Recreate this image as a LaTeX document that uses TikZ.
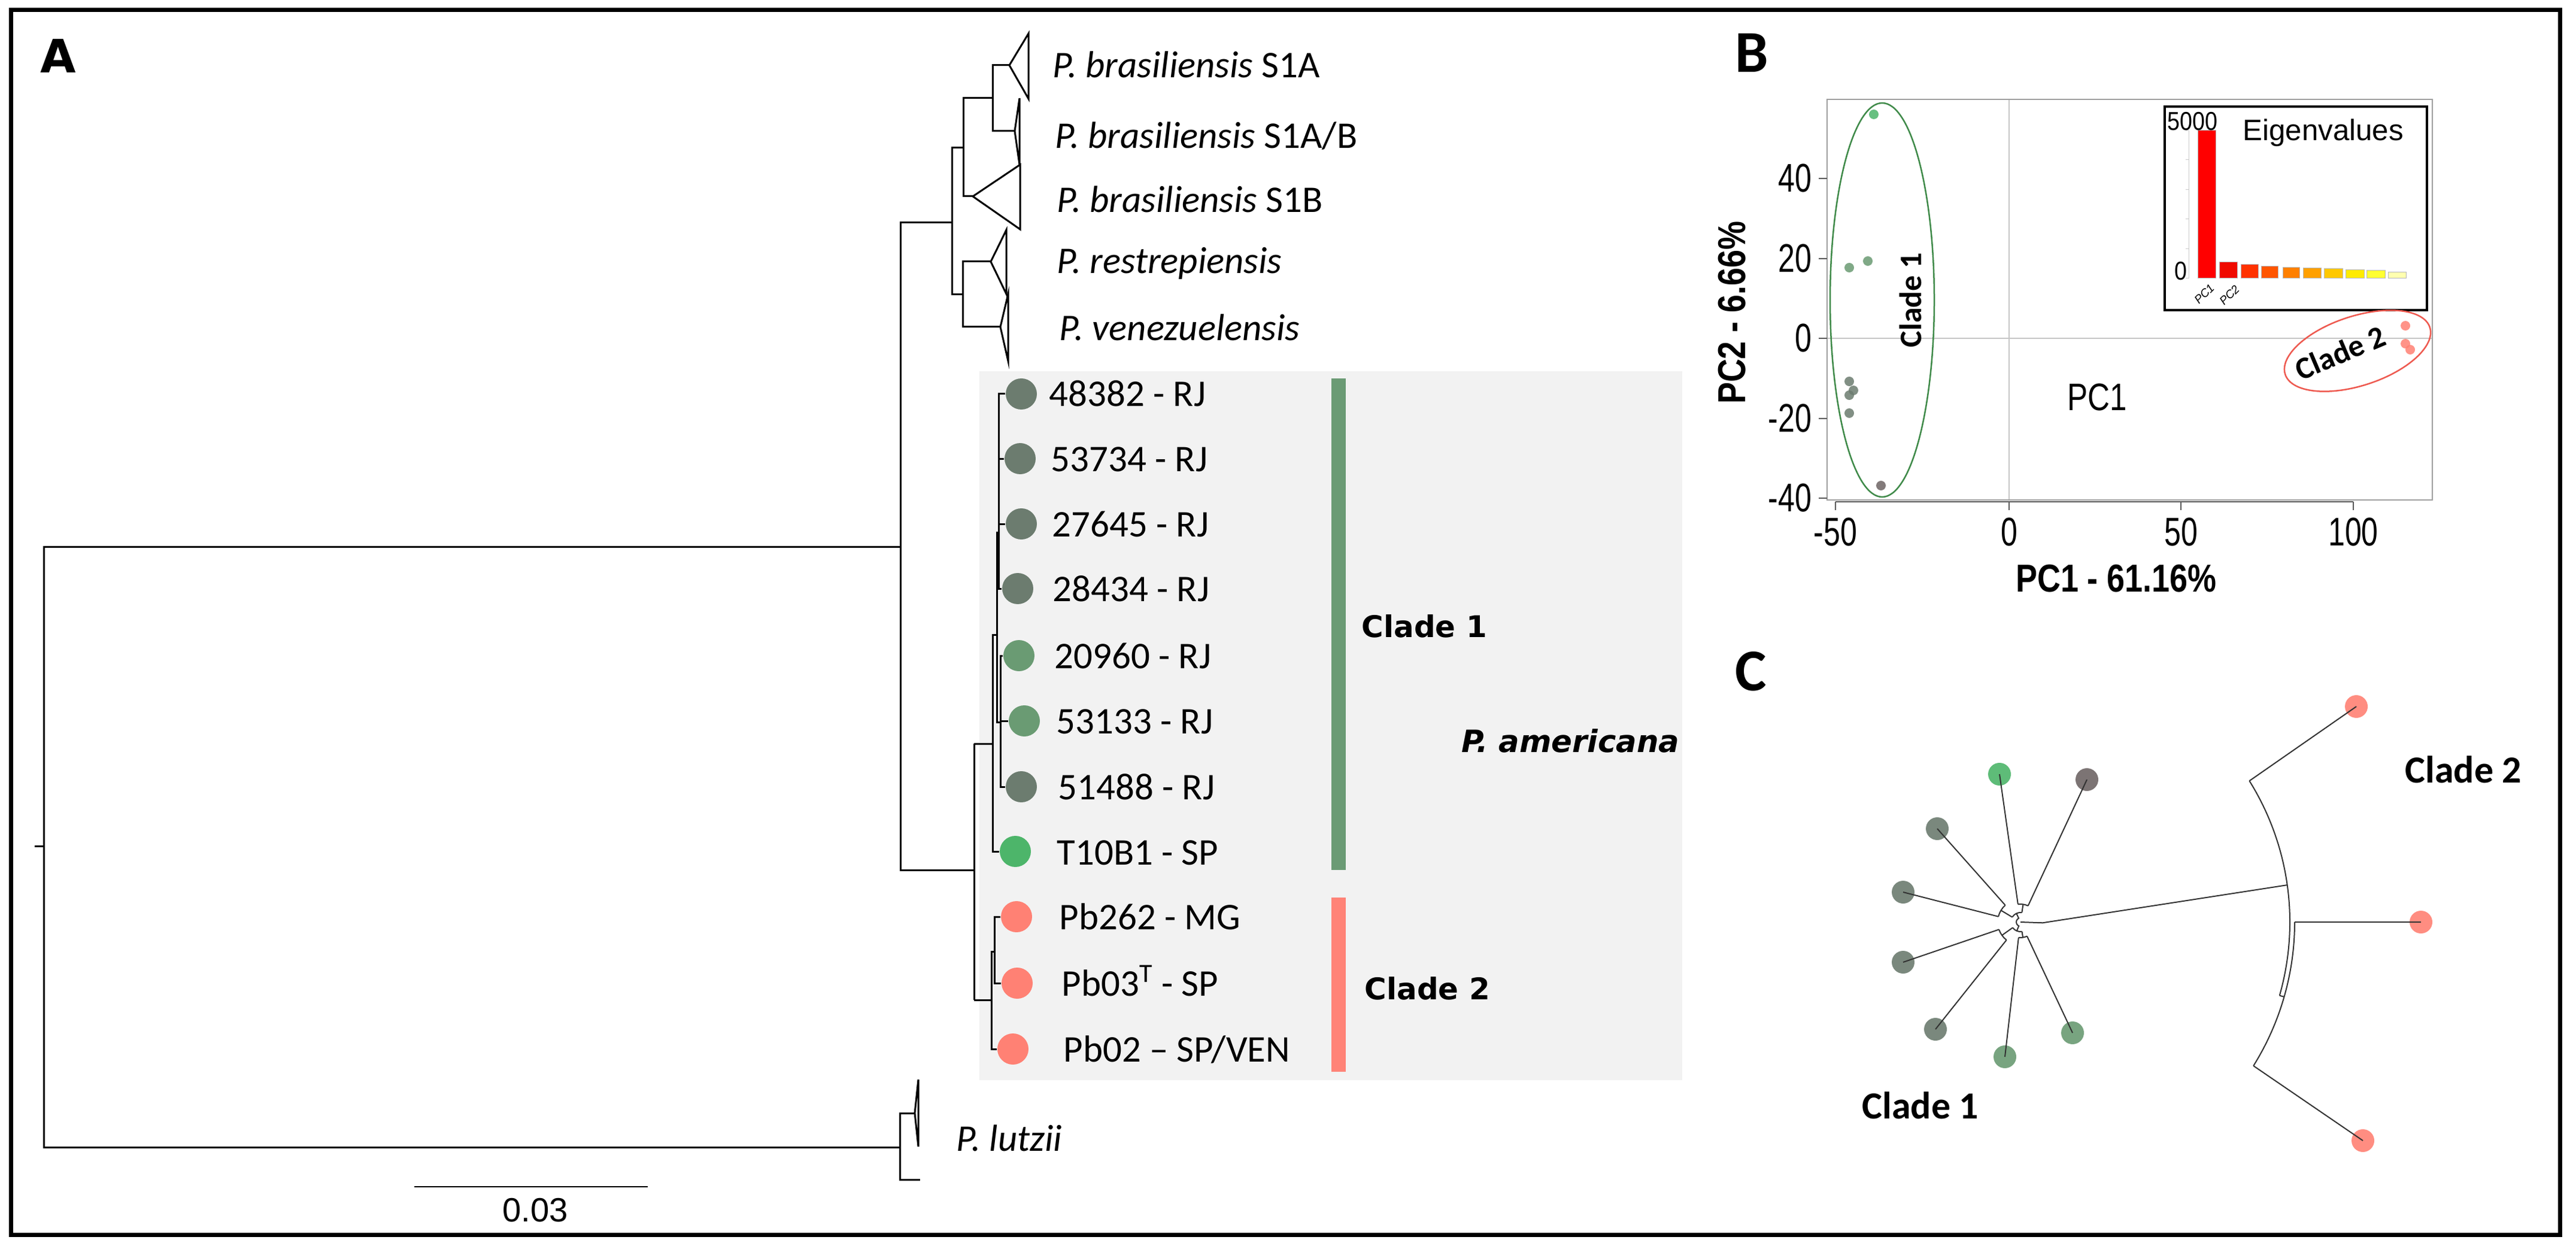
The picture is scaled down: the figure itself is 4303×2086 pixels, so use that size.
\documentclass[tikz,border=0pt]{standalone}
\usepackage{fontspec}
\setmainfont{Carlito}
\newfontfamily\dvs{DejaVu Sans}
\newfontfamily\lsans{Liberation Sans}
\newfontfamily\rtick{Liberation Sans}[FakeStretch=0.75]
\newfontfamily\raxis{Liberation Sans}[FakeStretch=0.83]
\newfontfamily\rpc{Liberation Sans}[FakeStretch=0.8]
\newfontfamily\rsmall{Liberation Sans}[FakeStretch=0.87]
\usetikzlibrary{calc}
\definecolor{boxgray}{HTML}{F2F2F2}
\definecolor{dkg}{HTML}{6C7C6F}
\definecolor{mdg}{HTML}{6A9B73}
\definecolor{brg}{HTML}{4DB56A}
\definecolor{salm}{HTML}{FF8174}
\definecolor{barg}{HTML}{6B9B75}
\definecolor{barr}{HTML}{FF8377}
\definecolor{ellg}{HTML}{3F8A49}
\definecolor{ellr}{HTML}{EE5A50}
\definecolor{cbrown}{HTML}{6E6565}
\tikzset{
  tree/.style={line width=0.3mm, black, line join=miter},
  leafdot/.style={circle, inner sep=0pt, minimum size=5.2mm, draw=none},
  leaftxt/.style={anchor=base west, inner sep=0pt, font=\fontsize{17.9}{20}\selectfont},
  species/.style={anchor=base west, inner sep=0pt, font=\fontsize{17.9}{20}\selectfont\itshape},
  cladeA/.style={anchor=base west, inner sep=0pt, font=\dvs\bfseries\fontsize{14.2}{16}\selectfont},
  panelB/.style={anchor=base west, inner sep=0pt, font=\bfseries\fontsize{28.2}{30}\selectfont},
  ytick/.style={anchor=east, inner sep=0pt, font=\rtick\fontsize{19}{20}\selectfont},
  xtick/.style={anchor=north, inner sep=0pt, font=\rtick\fontsize{19}{20}\selectfont},
  axtitle/.style={inner sep=0pt, font=\raxis\bfseries\fontsize{18.5}{20}\selectfont},
  pdot/.style={circle, inner sep=0pt, minimum size=1.6mm, fill opacity=0.85},
  cdot/.style={circle, inner sep=0pt, minimum size=3.8mm, fill opacity=0.9},
  ctree/.style={line width=0.2mm, black!80},
  bar/.style={draw=gray!55, line width=0.1mm},
  cladeC/.style={anchor=base west, inner sep=0pt, font=\bfseries\fontsize{18.2}{20}\selectfont},
  cladeB/.style={inner sep=0pt, font=\bfseries\fontsize{14.8}{16}\selectfont}
}
\begin{document}
\begin{tikzpicture}[x=0.1mm,y=-0.1mm]
\useasboundingbox (0,0) rectangle (4303,2086);
\fill[white] (0,0) rectangle (4303,2086);
% ================= Panel A =================
\fill[boxgray] (1636,620) rectangle (2810,1804);
\node[anchor=base west, inner sep=0pt, font=\dvs\bfseries\fontsize{21.9}{24}\selectfont] (labA) at (67,122) {A};
% root
\draw[tree] (58,1413) -- (73,1413);
\draw[tree] (1504,913) -- (73,913) -- (73,1916) -- (1504,1916);
\draw[tree] (1590,372) -- (1504,372) -- (1504,1453) -- (1627,1453);
% brasiliensis etc.
\draw[tree] (1609,247) -- (1590,247) -- (1590,492) -- (1608,492);
\draw[tree] (1658,164) -- (1609,164) -- (1609,328) -- (1625,328);
\draw[tree] (1686,109) -- (1658,109) -- (1658,219) -- (1695,219);
\draw[tree] (1686,109) -- (1718,56) -- (1718,165) -- cycle;
\draw[tree] (1695,219) -- (1703,164) -- (1703,275) -- cycle;
\draw[tree] (1625,328) -- (1704,275) -- (1704,383) -- cycle;
\draw[tree] (1655,437) -- (1608,437) -- (1608,546) -- (1671,546);
\draw[tree] (1655,437) -- (1681,384) -- (1681,491) -- cycle;
\draw[tree] (1671,546) -- (1684,491) -- (1684,603) -- cycle;
% lutzii
\draw[tree] (1528,1859) -- (1503,1859) -- (1503,1970) -- (1537,1970);
\draw[tree] (1528,1859) -- (1534,1803) -- (1534,1915) -- cycle;
% americana leaves
\node[leafdot, fill=dkg] (l1) at (1706,658) {};
\node[leafdot, fill=dkg] (l2) at (1704,766) {};
\node[leafdot, fill=dkg] (l3) at (1706,875) {};
\node[leafdot, fill=dkg] (l4) at (1700,983) {};
\node[leafdot, fill=mdg] (l5) at (1702,1095) {};
\node[leafdot, fill=mdg] (l6) at (1711,1204) {};
\node[leafdot, fill=dkg] (l7) at (1706,1314) {};
\node[leafdot, fill=brg] (l8) at (1696,1422) {};
\node[leafdot, fill=salm] (l9) at (1698,1531) {};
\node[leafdot, fill=salm] (l10) at (1699,1642) {};
\node[leafdot, fill=salm] (l11) at (1692,1752) {};
\node[leaftxt] (t1) at (1752,679) {48382 - RJ};
\node[leaftxt] (t2) at (1755,787) {53734 - RJ};
\node[leaftxt] (t3) at (1757,896) {27645 - RJ};
\node[leaftxt] (t4) at (1758,1004) {28434 - RJ};
\node[leaftxt] (t5) at (1761,1116) {20960 - RJ};
\node[leaftxt] (t6) at (1764,1225) {53133 - RJ};
\node[leaftxt] (t7) at (1767,1335) {51488 - RJ};
\node[leaftxt] (t8) at (1765,1444) {T10B1 - SP};
\node[leaftxt] (t9) at (1769,1552) {Pb262 - MG};
\node[leaftxt] (t10) at (1773,1663) {Pb03\textsuperscript{T} - SP};
\node[leaftxt] (t11) at (1776,1773) {Pb02 – SP/VEN};
% clade 1 subtree
\draw[tree] (1627,1242) -- (1627,1670);
\draw[tree] (1627,1242) -- (1658,1242);
\draw[tree] (1665,1060) -- (1658,1060) -- (1658,1422) -- (l8.west);
\draw[tree] (1668,889) -- (1665,889) -- (1665,1206) -- (1671,1206);
\draw[tree] (l1.west) -- (1668,658) -- (1668,983) -- (l4.west);
\draw[tree] (1668,766) -- (l2.west);
\draw[tree] (1668,875) -- (l3.west);
\draw[tree] (l5.west) -- (1671,1095) -- (1671,1314) -- (l7.west);
\draw[tree] (1671,1204) -- (l6.west);
% clade 2 subtree
\draw[tree] (1627,1670) -- (1656,1670);
\draw[tree] (1661,1589) -- (1656,1589) -- (1656,1752) -- (l11.west);
\draw[tree] (l9.west) -- (1661,1531) -- (1661,1642) -- (l10.west);
% species labels
\node[species] (s1) at (1758,130) {P. brasiliensis \upshape S1A};
\node[species] (s2) at (1762,248) {P. brasiliensis \upshape S1A/B};
\node[species] (s3) at (1765,355) {P. brasiliensis \upshape S1B};
\node[species] (s4) at (1765,457) {P. restrepiensis};
\node[species] (s5) at (1769,569) {P. venezuelensis};
\node[species] (s6) at (1597,1922) {P. lutzii};
% clade bars
\fill[barg] (2224,632) rectangle (2248,1453);
\fill[barr] (2224,1499) rectangle (2248,1790);
\node[cladeA] (ca1) at (2274,1064) {Clade 1};
\node[cladeA] (ca2) at (2279,1669) {Clade 2};
\node[cladeA, font=\dvs\bfseries\itshape\fontsize{14.6}{16}\selectfont] (pam) at (2441,1256) {P. americana};
% scale bar
\draw[line width=0.25mm] (692,1982) -- (1082,1982);
\node[anchor=base, inner sep=0pt, font=\lsans\fontsize{16}{18}\selectfont] (sb) at (894,2040) {0.03};
% ================= Panel B =================
\node[panelB] (labB) at (2898,121) {B};
\draw[gray!45, line width=0.15mm] (3356,166) -- (3356,835);
\draw[gray!45, line width=0.15mm] (3052,565) -- (4063,565);
\draw[gray!75, line width=0.2mm] (3052,166) rectangle (4063,835);
\foreach \yy/\lab in {298/40,432/20,565/0,699/-20,832/-40}{
  \draw[gray!70!black, line width=0.2mm] (3038,\yy) -- (3052,\yy);
  \node[ytick] at (3027,\yy) {\lab};
}
\draw[gray!70!black, line width=0.2mm] (3066,838) -- (3931,838);
\foreach \xx/\lab in {3066/-50,3356/0,3643/50,3931/100}{
  \draw[gray!70!black, line width=0.2mm] (\xx,838) -- (\xx,852);
  \node[xtick] at (\xx,864) {\lab};
}
\node[axtitle, rotate=90] (pc2) at (2893,522) {PC2 - 6.66\%};
\node[axtitle] (pc1) at (3535,966) {PC1 - 61.16\%};
\node[anchor=base west, inner sep=0pt, font=\rpc\fontsize{18.2}{20}\selectfont] (pcin) at (3453,686) {PC1};
% inset
\draw[black, line width=0.4mm, fill=white] (3616,178) rectangle (4054,518);
\draw[gray!40, line width=0.1mm] (3656,218) -- (3656,465);
\foreach \yy in {218,267,317,366,416,465}{\draw[gray!40, line width=0.1mm] (3651,\yy) -- (3656,\yy);}
\fill[bar, fill={rgb,255:red,255;green,0;blue,0}] (3671,218) rectangle (3701,465);
\fill[bar, fill={rgb,255:red,240;green,10;blue,0}] (3707,438) rectangle (3737,465);
\fill[bar, fill={rgb,255:red,255;green,50;blue,0}] (3743,442) rectangle (3772,465);
\fill[bar, fill={rgb,255:red,255;green,85;blue,0}] (3777,445) rectangle (3805,465);
\fill[bar, fill={rgb,255:red,255;green,128;blue,0}] (3813,447) rectangle (3841,465);
\fill[bar, fill={rgb,255:red,255;green,160;blue,0}] (3847,448) rectangle (3877,465);
\fill[bar, fill={rgb,255:red,255;green,200;blue,0}] (3882,449) rectangle (3913,465);
\fill[bar, fill={rgb,255:red,255;green,235;blue,0}] (3918,451) rectangle (3949,465);
\fill[bar, fill={rgb,255:red,255;green,255;blue,50}] (3953,452) rectangle (3984,465);
\fill[bar, fill={rgb,255:red,255;green,255;blue,176}] (3989,455) rectangle (4019,465);
\foreach \xa/\ya/\yb/\xb in {3671/218/465/3701,3707/438/465/3737,3743/442/465/3772,3777/445/465/3805,3813/447/465/3841,3847/448/465/3877,3882/449/465/3913,3918/451/465/3949,3953/452/465/3984,3989/455/465/4019}{
  \draw[bar] (\xa,\ya) rectangle (\xb,\yb);
}
\node[anchor=base west, inner sep=0pt, font=\rsmall\fontsize{12.3}{13}\selectfont] (e5000) at (3620,218) {5000};
\node[anchor=base west, inner sep=0pt, font=\rsmall\fontsize{12.3}{13}\selectfont] (e0) at (3632,468) {0};
\node[anchor=base west, inner sep=0pt, font=\lsans\fontsize{14}{16}\selectfont] (eig) at (3746,235) {Eigenvalues};
\node[rotate=45, inner sep=0pt, font=\lsans\itshape\fontsize{5.5}{6}\selectfont] (epc1) at (3682,491) {PC1};
\node[rotate=45, inner sep=0pt, font=\lsans\itshape\fontsize{5.5}{6}\selectfont] (epc2) at (3724,493) {PC2};
% points
\node[pdot, fill=brg] (p1) at (3130,191) {};
\node[pdot, fill=mdg] (p2) at (3089,447) {};
\node[pdot, fill=mdg] (p3) at (3120,436) {};
\node[pdot, fill=dkg] (p4) at (3089,637) {};
\node[pdot, fill=dkg] (p5) at (3096,652) {};
\node[pdot, fill=dkg] (p6) at (3089,660) {};
\node[pdot, fill=dkg] (p7) at (3089,690) {};
\node[pdot, fill=cbrown] (p8) at (3142,811) {};
\node[pdot, fill=salm] (p9) at (4018,544) {};
\node[pdot, fill=salm] (p10) at (4018,574) {};
\node[pdot, fill=salm] (p11) at (4026,584) {};
\draw[ellg, line width=0.25mm] (3144,501) ellipse [x radius=8.7mm, y radius=32.9mm];
\draw[ellr, line width=0.25mm, rotate around={18:(3938,586)}] (3938,586) ellipse [x radius=12.7mm, y radius=5.8mm];
\node[cladeB, rotate=90] (cb1) at (3191,501) {Clade 1};
\node[cladeB, rotate=23] (cb2) at (3909,589) {Clade 2};
% ================= Panel C =================
\node[panelB] (labC) at (2898,1153) {C};
\coordinate (cc) at (3375,1540);
\coordinate (ro) at (3380,1540);
\node[cdot, fill=brg] (c1) at (3340,1293) {};
\node[cdot, fill=cbrown] (c2) at (3486,1302) {};
\node[cdot, fill=dkg] (c3) at (3236,1384) {};
\node[cdot, fill=dkg] (c4) at (3179,1490) {};
\node[cdot, fill=dkg] (c5) at (3179,1607) {};
\node[cdot, fill=dkg] (c6) at (3233,1719) {};
\node[cdot, fill=mdg] (c7) at (3349,1765) {};
\node[cdot, fill=mdg] (c8) at (3462,1725) {};
\node[cdot, fill=salm] (r1) at (3936,1180) {};
\node[cdot, fill=salm] (r2) at (4044,1540) {};
\node[cdot, fill=salm] (r3) at (3947,1905) {};
% clade 1 fan
\draw[ctree] ([shift={(98:3mm)}]cc) -- (c1.center);
\draw[ctree] ([shift={(65:3mm)}]cc) -- (c2.center);
\draw[ctree] ([shift={(132:3.8mm)}]cc) -- (c3.center);
\draw[ctree] ([shift={(166:3.8mm)}]cc) -- (c4.center);
\draw[ctree] ([shift={(199:3.8mm)}]cc) -- (c5.center);
\draw[ctree] ([shift={(232:3.8mm)}]cc) -- (c6.center);
\draw[ctree] ([shift={(263:2.6mm)}]cc) -- (c7.center);
\draw[ctree] ([shift={(295:2.6mm)}]cc) -- (c8.center);
\draw[ctree] ([shift={(65:3mm)}]cc) arc[start angle=65, end angle=98, radius=3mm];
\draw[ctree] ([shift={(132:3.8mm)}]cc) arc[start angle=132, end angle=166, radius=3.8mm];
\draw[ctree] ([shift={(199:3.8mm)}]cc) arc[start angle=199, end angle=232, radius=3.8mm];
\draw[ctree] ([shift={(263:2.6mm)}]cc) arc[start angle=263, end angle=295, radius=2.6mm];
\draw[ctree] ([shift={(81.5:1.6mm)}]cc) -- ([shift={(81.5:3mm)}]cc);
\draw[ctree] ([shift={(149:1.6mm)}]cc) -- ([shift={(149:3.8mm)}]cc);
\draw[ctree] ([shift={(215.5:1.6mm)}]cc) -- ([shift={(215.5:3.8mm)}]cc);
\draw[ctree] ([shift={(279:1.6mm)}]cc) -- ([shift={(279:2.6mm)}]cc);
\draw[ctree] ([shift={(81.5:1.6mm)}]cc) arc[start angle=81.5, end angle=149, radius=1.6mm];
\draw[ctree] ([shift={(215.5:1.6mm)}]cc) arc[start angle=215.5, end angle=279, radius=1.6mm];
\draw[ctree] ([shift={(115:1.6mm)}]cc) -- ([shift={(115:0.7mm)}]cc) arc[start angle=115, end angle=247, radius=0.7mm] -- ([shift={(247:1.6mm)}]cc);
\draw[ctree] (cc) -- ([shift={(-2:3.7mm)}]cc);
% clade 2 fan
\draw[ctree] ([shift={(-2:3.7mm)}]cc) -- ([shift={(8:44.5mm)}]ro);
\draw[ctree] ([shift={(32:44.5mm)}]ro) arc[start angle=32, end angle=-16, radius=44.5mm];
\draw[ctree] ([shift={(0:45.3mm)}]ro) arc[start angle=0, end angle=-32, radius=45.3mm];
\draw[ctree] ([shift={(-16:44.5mm)}]ro) -- ([shift={(-16:45.3mm)}]ro);
\draw[ctree] ([shift={(32:44.5mm)}]ro) -- (r1.center);
\draw[ctree] ([shift={(0:45.3mm)}]ro) -- (r2.center);
\draw[ctree] ([shift={(-32:45.3mm)}]ro) -- (r3.center);
\node[cladeC] (cc2) at (4017,1307) {Clade 2};
\node[cladeC] (cc1) at (3110,1868) {Clade 1};
% frame
\draw[line width=0.7mm] (18,17) rectangle (4276,2062);
\end{tikzpicture}
\end{document}
